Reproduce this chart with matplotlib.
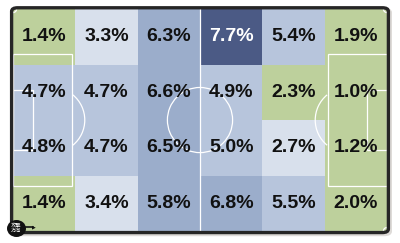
import numpy as np
import matplotlib.pyplot as plt
from matplotlib.colors import ListedColormap, BoundaryNorm
from matplotlib.patches import Rectangle, Arc, Ellipse, FancyBboxPatch

# データ（上の行から、左の列から）
row1 = [1.4, 3.3, 6.3, 7.7, 5.4, 1.9]
row2 = [4.7, 4.7, 6.6, 4.9, 2.3, 1.0]
row3 = [4.8, 4.7, 6.5, 5.0, 2.7, 1.2]
row4 = [1.4, 3.4, 5.8, 6.8, 5.5, 2.0]
values = np.array([row1, row2, row3, row4])

bins = [0, 2.5, 4.0, 5.7, 7.5, 10]
colors = ['#bdd09c', '#d8e0ec', '#b7c5dc', '#9badcb', '#4b5a85']
cmap = ListedColormap(colors)
norm = BoundaryNorm(bins, cmap.N)

L, W = 105, 68
fig = plt.figure(figsize=(4.0, 2.43), dpi=100)
fig.patch.set_facecolor('white')

# 影と枠
shadow = FancyBboxPatch((0.035, 0.028), 0.945, 0.94,
                        boxstyle='round,pad=0,rounding_size=0.02',
                        transform=fig.transFigure, fc='#dedbd8', ec='none')
shadow.set_zorder(-2)
fig.add_artist(shadow)

ax = fig.add_axes([0.0325, 0.049, 0.935, 0.914])
ax.set_zorder(1)

frame = FancyBboxPatch((0.029, 0.043), 0.942, 0.925,
                       boxstyle='round,pad=0,rounding_size=0.015',
                       transform=fig.transFigure, fc='none',
                       ec='#262626', lw=2.4)
frame.set_zorder(5)
fig.add_artist(frame)

xe = np.linspace(0, L, 7)
ye = np.linspace(W, 0, 5)
ax.pcolormesh(xe, ye, values, cmap=cmap, norm=norm, shading='flat', zorder=1)

# ピッチのライン
lc = 'white'
lw = 0.9
ax.plot([L / 2, L / 2], [0, W], color=lc, lw=lw, zorder=2)
ax.add_patch(Arc((L / 2, W / 2), 18.3, 18.3 * 1.09, color=lc, lw=lw, zorder=2))
for side in (0, 1):
    x0 = 0 if side == 0 else L - 16.5
    ax.add_patch(Rectangle((x0, W / 2 - 20.15), 16.5, 40.3, fill=False, ec=lc, lw=lw, zorder=2))
    x1 = 0 if side == 0 else L - 5.5
    ax.add_patch(Rectangle((x1, W / 2 - 9.15), 5.5, 18.3, fill=False, ec=lc, lw=lw, zorder=2))
    cx = 11 if side == 0 else L - 11
    if side == 0:
        ax.add_patch(Arc((cx, W / 2), 18.3, 18.3 * 1.09, theta1=-53, theta2=53, color=lc, lw=lw, zorder=2))
    else:
        ax.add_patch(Arc((cx, W / 2), 18.3, 18.3 * 1.09, theta1=127, theta2=233, color=lc, lw=lw, zorder=2))
for (px, py, t1) in [(0, 0, 0), (L, 0, 90), (L, W, 180), (0, W, 270)]:
    ax.add_patch(Arc((px, py), 2, 2.2, theta1=t1, theta2=t1 + 90, color=lc, lw=lw, zorder=2))

# 数値
for i in range(values.shape[0]):
    for j in range(values.shape[1]):
        v = values[i, j]
        ax.text((xe[j] + xe[j + 1]) / 2, (ye[i] + ye[i + 1]) / 2, f'{v:.1f}%',
                ha='center', va='center', fontsize=14, fontweight='bold',
                family='Liberation Sans',
                color='white' if v > 7.5 else '#111111', zorder=3)

ax.set_xlim(0, L)
ax.set_ylim(0, W)
ax.axis('off')

# 攻撃方向
icon = Ellipse((16.5 / 400, 1 - 228.5 / 243), 19 / 400, 17 / 243,
               transform=fig.transFigure, fc='#111111', ec='none')
icon.set_zorder(6)
fig.add_artist(icon)
fig.text(16.5 / 400, 1 - 228.5 / 243, '攻撃\n方向', ha='center', va='center',
         fontsize=3.8, color='white',
         family=['Noto Sans CJK JP', 'DejaVu Sans'], linespacing=0.9, zorder=7)
fig.add_artist(plt.Line2D([26 / 400, 33 / 400], [1 - 227 / 243] * 2,
                          transform=fig.transFigure, color='#111111', lw=1.2,
                          zorder=6))
fig.text(34 / 400, 1 - 227 / 243, '▶', ha='center', va='center', fontsize=3.5,
         color='#111111', zorder=6)

fig.savefig('out.png', dpi=100)
